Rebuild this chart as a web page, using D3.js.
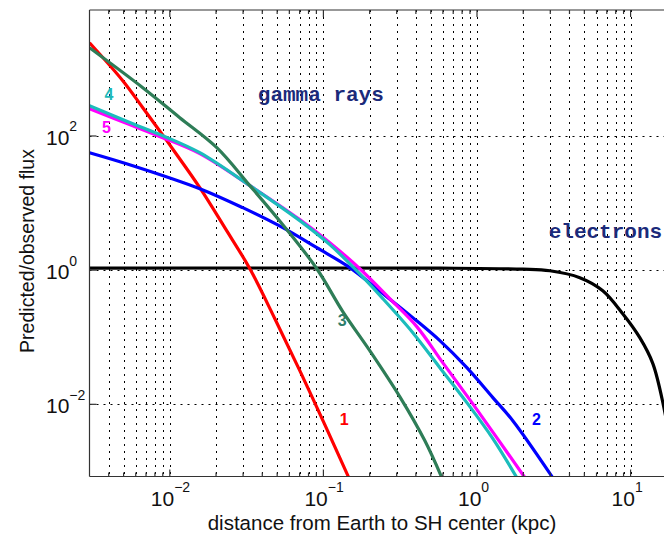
<!DOCTYPE html>
<html>
<head>
<meta charset="utf-8">
<script src="https://cdn.jsdelivr.net/npm/d3@7"></script>
<style>
  html, body { margin: 0; padding: 0; background: #ffffff; }
  svg { display: block; }
</style>
</head>
<body>
<svg id="chart" width="664" height="534"></svg>
<script>
// ---- data ----
const redX = [0.003, 0.00494, 0.00667, 0.00955, 0.01567, 0.0228, 0.0332, 0.0483, 0.0702, 0.1021, 0.1462];
const redY = [2455, 667, 264, 85.1, 17.0, 4.30, 1.05, 0.189, 0.0318, 0.00498, 0.00081];

const greenX = [0.003, 0.00667, 0.01161, 0.02023, 0.0332, 0.0544, 0.0906, 0.1337, 0.2004, 0.314, 0.457, 0.590];
const greenY = [2070, 525, 187.5, 67.0, 18.2, 4.76, 1.05, 0.241, 0.0631, 0.01303, 0.00288, 0.00081];

const cyanX = [0.003, 0.00574, 0.009, 0.01567, 0.0332, 0.0702, 0.1101, 0.1600, 0.2437, 0.382, 0.573, 0.859, 1.268, 1.815];
const cyanY = [283, 152.5, 101, 56.4, 18.2, 5.47, 2.40, 1.05, 0.376, 0.117, 0.0352, 0.0106, 0.00308, 0.00081];

const magentaX = [0.003, 0.00574, 0.009, 0.01567, 0.0332, 0.0702, 0.1101, 0.1726, 0.2704, 0.4055, 0.598, 0.897, 1.345, 2.047];
const magentaY = [255, 142, 94.4, 54.5, 18.2, 5.66, 2.57, 1.05, 0.376, 0.144, 0.0418, 0.01175, 0.00319, 0.00081];

const blueX = [0.003, 0.00574, 0.01567, 0.02985, 0.0544, 0.0906, 0.1486, 0.2437, 0.382, 0.573, 0.859, 1.268, 1.710, 3.11];
const blueY = [56.4, 36.1, 16.4, 8.54, 4.30, 2.16, 1.09, 0.447, 0.196, 0.0890, 0.0352, 0.0126, 0.00571, 0.00081];

const blackX = [0.003, 0.573, 1.986, 2.98, 4.67, 6.59, 8.89, 11.48, 13.96, 16.4, 18.5];
const blackY = [1.07, 1.07, 1.035, 0.98, 0.773, 0.494, 0.224, 0.0986, 0.0405, 0.0094, 0.002];

const xTickValues = [0.01, 0.1, 1, 10];
const xTickExps = ["\u22122", "\u22121", "0", "1"];
const yTickValues = [0.01, 1, 100];
const yTickExps = ["\u22122", "0", "2"];

const curveNames = ["1", "2", "3", "4", "5"];
const curveLabelX = [0.1368, 2.44, 0.1327, 0.00401, 0.00387];
const curveLabelY = [0.0059, 0.0059, 0.177, 412, 133];

const textNames = ["gamma rays", "electrons"];
const textX = [0.0374, 2.93];
const textY = [336, 3.02];

// ---- layout ----
const svg = d3.select("#chart");
const pLeft = 89.5, pRight = 664, pTop = 10, pBottom = 476.5;

const x = d3.scaleLog().domain([0.003, 16.5]).range([pLeft, pRight]);
const y = d3.scaleLog().domain([Math.pow(10, -3.076), Math.pow(10, 3.878)]).range([pBottom, pTop]);

// minor tick positions along x
const xMinor = [];
for (let e = -3; e <= 1; e++) {
  for (let m = 1; m <= 9; m++) {
    const v = m * Math.pow(10, e);
    if (v > 0.0031 && v < 16.5) xMinor.push(v);
  }
}

// grid
const grid = svg.append("g").attr("stroke", "#000").attr("stroke-width", 1).attr("stroke-dasharray", "2,5");
grid.selectAll("line.vx").data(xMinor).enter().append("line")
  .attr("x1", d => Math.round(x(d)) + 0.5).attr("x2", d => Math.round(x(d)) + 0.5)
  .attr("y1", pTop).attr("y2", pBottom);
grid.selectAll("line.hy").data(yTickValues).enter().append("line")
  .attr("x1", pLeft).attr("x2", pRight)
  .attr("y1", d => Math.round(y(d)) + 0.5).attr("y2", d => Math.round(y(d)) + 0.5);

// clip
svg.append("defs").append("clipPath").attr("id", "plotclip")
  .append("rect").attr("x", pLeft).attr("y", pTop).attr("width", pRight - pLeft).attr("height", pBottom - pTop);

const line = d3.line().x(d => x(d[0])).y(d => y(d[1])).curve(d3.curveCatmullRom.alpha(0.5));
const zip = (a, b) => a.map((v, i) => [v, b[i]]);

const series = [
  { xs: blackX, ys: blackY, color: "#000000" },
  { xs: redX, ys: redY, color: "#ff0000" },
  { xs: blueX, ys: blueY, color: "#0000ff" },
  { xs: magentaX, ys: magentaY, color: "#ff00ff" },
  { xs: cyanX, ys: cyanY, color: "#1cbcbc" },
  { xs: greenX, ys: greenY, color: "#2e7d57" }
];

const plot = svg.append("g").attr("clip-path", "url(#plotclip)");
plot.selectAll("path.curve").data(series).enter().append("path")
  .attr("class", "curve")
  .attr("d", s => line(zip(s.xs, s.ys)))
  .attr("fill", "none")
  .attr("stroke", s => s.color)
  .attr("stroke-width", 3.2)
  .attr("stroke-linejoin", "round");

// axes frame
const frame = svg.append("g").attr("stroke", "#333").attr("stroke-width", 1.2).attr("fill", "none");
frame.append("line").attr("x1", pLeft).attr("x2", pRight).attr("y1", pTop).attr("y2", pTop);
frame.append("line").attr("x1", pLeft).attr("x2", pRight).attr("y1", pBottom).attr("y2", pBottom);
frame.append("line").attr("x1", pLeft).attr("x2", pLeft).attr("y1", pTop).attr("y2", pBottom);

// ticks on top/bottom/left
const isMajor = v => Math.abs(Math.log10(v) - Math.round(Math.log10(v))) < 1e-6;
const tk = svg.append("g").attr("stroke", "#333").attr("stroke-width", 1.2);
tk.selectAll("line.tb").data(xMinor).enter().append("line")
  .attr("x1", d => x(d)).attr("x2", d => x(d))
  .attr("y1", pBottom).attr("y2", d => pBottom - (isMajor(d) ? 7 : 4));
tk.selectAll("line.tt").data(xMinor).enter().append("line")
  .attr("x1", d => x(d)).attr("x2", d => x(d))
  .attr("y1", pTop).attr("y2", d => pTop + (isMajor(d) ? 7 : 4));
tk.selectAll("line.tl").data(yTickValues).enter().append("line")
  .attr("x1", pLeft).attr("x2", pLeft + 7)
  .attr("y1", d => y(d)).attr("y2", d => y(d));

// tick labels
const font = "'Liberation Sans', Arial, Helvetica, sans-serif";
const xl = svg.append("g").attr("font-family", font).attr("fill", "#111");
xTickValues.forEach((v, i) => {
  const t = xl.append("text").attr("x", x(v) - 19).attr("y", 506).attr("font-size", 21);
  t.append("tspan").text("10");
  t.append("tspan").attr("font-size", 14).attr("dy", -14).text(xTickExps[i]);
});
yTickValues.forEach((v, i) => {
  const t = xl.append("text").attr("x", 46).attr("y", y(v) + 9).attr("font-size", 21);
  t.append("tspan").text("10");
  t.append("tspan").attr("font-size", 14).attr("dy", -13.5).text(yTickExps[i]);
});

// axis titles
svg.append("text").attr("x", 382).attr("y", 529.5).attr("text-anchor", "middle")
  .attr("font-family", font).attr("font-size", 20.5).attr("fill", "#111")
  .text("distance from Earth to SH center (kpc)");
svg.append("text").attr("transform", "translate(33.5,251) rotate(-90)").attr("text-anchor", "middle")
  .attr("font-family", font).attr("font-size", 19.5).attr("fill", "#111")
  .text("Predicted/observed flux");

// curve labels
const labelColors = ["#ff0000", "#0000ff", "#2e7d6a", "#1cb8b8", "#ff00ff"];
svg.append("g").selectAll("text").data(curveNames).enter().append("text")
  .attr("x", (d, i) => x(curveLabelX[i])).attr("y", (d, i) => y(curveLabelY[i]) + 5.5)
  .attr("text-anchor", "middle")
  .attr("font-family", font).attr("font-weight", "bold").attr("font-size", 16)
  .attr("fill", (d, i) => labelColors[i])
  .text(d => d);

// text annotations
svg.append("g").selectAll("text").data(textNames).enter().append("text")
  .attr("x", (d, i) => x(textX[i])).attr("y", (d, i) => y(textY[i]))
  .attr("font-family", "'Liberation Mono', 'Courier New', monospace").attr("font-weight", "bold")
  .attr("font-size", 21).attr("fill", "#1b2a7a")
  .text(d => d);
</script>
</body>
</html>
